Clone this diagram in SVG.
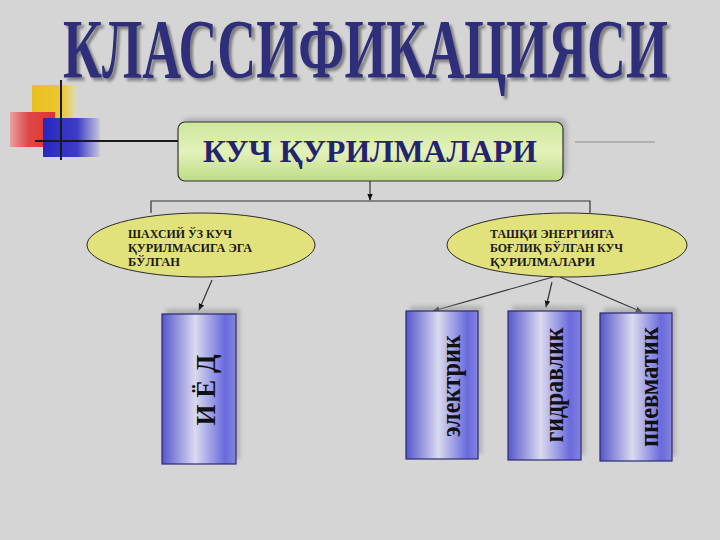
<svg xmlns="http://www.w3.org/2000/svg" width="720" height="540" viewBox="0 0 720 540">
<style>
.serif{font-family:"Liberation Serif","DejaVu Serif",serif;font-weight:bold}
.title{font-size:85px;fill:#2d2d7a}
.main{font-size:32px;fill:#23236e}
.ell{font-size:11.5px;fill:#1a1a1a}
.vert{font-size:27px;fill:#111}
.conn{stroke:#333;stroke-width:1.2;fill:none}
.ellipse{fill:#e2e27c;stroke:#2a2a2a;stroke-width:1}
.box{fill:url(#blueGrad);stroke:#2a2a70;stroke-width:1.2}
.shadow{fill:#9a9a9a;opacity:0.6;filter:url(#blur)}
</style>
<defs>
<linearGradient id="blueGrad" x1="0" y1="0" x2="1" y2="0">
<stop offset="0" stop-color="#5656cc"/>
<stop offset="0.45" stop-color="#dadaf0"/>
<stop offset="0.85" stop-color="#6a6ade"/>
<stop offset="1" stop-color="#8484da"/>
</linearGradient>
<linearGradient id="greenGrad" x1="0" y1="0" x2="0" y2="1">
<stop offset="0" stop-color="#cde79a"/>
<stop offset="0.5" stop-color="#e4f1bb"/>
<stop offset="1" stop-color="#bddc84"/>
</linearGradient>
<linearGradient id="yellowGrad" x1="0" y1="0" x2="1" y2="0">
<stop offset="0" stop-color="#e8c020"/>
<stop offset="0.7" stop-color="#ecc830"/>
<stop offset="1" stop-color="#e0d8b0"/>
</linearGradient>
<linearGradient id="redGrad" x1="0" y1="0" x2="1" y2="0">
<stop offset="0" stop-color="#e8a0a0"/>
<stop offset="0.4" stop-color="#e04848"/>
<stop offset="1" stop-color="#e03030"/>
</linearGradient>
<linearGradient id="blueSq" x1="0" y1="0" x2="1" y2="0">
<stop offset="0" stop-color="#2828c0"/>
<stop offset="0.6" stop-color="#3c3cc8"/>
<stop offset="1" stop-color="#c8c8dc"/>
</linearGradient>
<filter id="blur" x="-20%" y="-20%" width="140%" height="140%"><feGaussianBlur stdDeviation="2"/></filter>
<filter id="tshadow" x="-2%" y="-10%" width="104%" height="120%">
<feGaussianBlur in="SourceAlpha" stdDeviation="1.5" result="b"/>
<feOffset in="b" dx="4" dy="3" result="o"/>
<feFlood flood-color="#777" flood-opacity="0.9"/>
<feComposite in2="o" operator="in" result="s"/>
<feMerge><feMergeNode in="s"/><feMergeNode in="SourceGraphic"/></feMerge>
</filter>
<marker id="arrow" viewBox="0 0 10 10" refX="9" refY="5" markerWidth="7" markerHeight="7" orient="auto-start-reverse" markerUnits="userSpaceOnUse">
<path d="M0,1 L10,5 L0,9 z" fill="#111"/>
</marker>
</defs>
<rect width="720" height="540" fill="#d5d5d5"/>

<g id="decoration">
<rect x="32" y="85" width="43" height="35" fill="url(#yellowGrad)"/>
<rect x="10" y="112" width="45" height="35" fill="url(#redGrad)"/>
<rect x="43" y="118" width="57" height="39" fill="url(#blueSq)"/>
<line x1="61" y1="80" x2="61" y2="160" stroke="#1a1a1a" stroke-width="2"/>
<line x1="35" y1="141" x2="178" y2="141" stroke="#1a1a1a" stroke-width="2"/>
<line x1="575" y1="142" x2="655" y2="142" stroke="#b0b0b0" stroke-width="2"/>
</g>

<g id="title">
<text class="serif title" transform="scale(0.63,1)" x="100" y="78" textLength="960" lengthAdjust="spacingAndGlyphs" filter="url(#tshadow)">КЛАССИФИКАЦИЯСИ</text>
</g>

<g id="connectors">
<line class="conn" x1="370" y1="181" x2="370" y2="200" marker-end="url(#arrow)"/>
<polyline class="conn" points="151,213 151,201 590,201 590,213"/>
<line class="conn" x1="212" y1="280" x2="199" y2="310" marker-end="url(#arrow)"/>
<line class="conn" x1="553" y1="277" x2="433" y2="311" marker-end="url(#arrow)"/>
<line class="conn" x1="552" y1="282" x2="546" y2="307" marker-end="url(#arrow)"/>
<line class="conn" x1="560" y1="277" x2="642" y2="312" marker-end="url(#arrow)"/>
</g>

<g id="node-main">
<rect x="182" y="118" width="385" height="59" rx="7" fill="#9a9a9a" opacity="0.6" filter="url(#blur)"/>
<rect x="178" y="122" width="385" height="59" rx="7" fill="url(#greenGrad)" stroke="#333" stroke-width="1.2"/>
<text class="serif main" x="203" y="162" textLength="334" lengthAdjust="spacingAndGlyphs">КУЧ ҚУРИЛМАЛАРИ</text>
</g>

<g id="node-left-ellipse">
<ellipse class="ellipse" cx="201" cy="245" rx="114" ry="32"/>
<text class="serif ell" x="128" y="238" textLength="104" lengthAdjust="spacingAndGlyphs">ШАХСИЙ ЎЗ КУЧ</text>
<text class="serif ell" x="128" y="252" textLength="124" lengthAdjust="spacingAndGlyphs">ҚУРИЛМАСИГА ЭГА</text>
<text class="serif ell" x="128" y="266" textLength="52" lengthAdjust="spacingAndGlyphs">БЎЛГАН</text>
</g>

<g id="node-right-ellipse">
<ellipse class="ellipse" cx="567" cy="245" rx="120" ry="32"/>
<text class="serif ell" x="490" y="238" textLength="124" lengthAdjust="spacingAndGlyphs">ТАШҚИ ЭНЕРГИЯГА</text>
<text class="serif ell" x="490" y="252" textLength="133" lengthAdjust="spacingAndGlyphs">БОҒЛИҚ БЎЛГАН КУЧ</text>
<text class="serif ell" x="490" y="266" textLength="105" lengthAdjust="spacingAndGlyphs">ҚУРИЛМАЛАРИ</text>
</g>

<g id="node-ied">
<rect class="shadow" x="166" y="309" width="74" height="150"/>
<rect class="box" x="162" y="314" width="74" height="150"/>
<text class="serif vert" transform="translate(215,390) rotate(-90)" text-anchor="middle">И Ё Д</text>
</g>

<g id="node-elektrik">
<rect class="shadow" x="410" y="306" width="72" height="148"/>
<rect class="box" x="406" y="311" width="72" height="148"/>
<text class="serif vert" transform="translate(460,386) rotate(-90)" text-anchor="middle" textLength="102" lengthAdjust="spacingAndGlyphs">электрик</text>
</g>

<g id="node-gidravlik">
<rect class="shadow" x="512" y="306" width="73" height="149"/>
<rect class="box" x="508" y="311" width="73" height="149"/>
<text class="serif vert" transform="translate(563,385) rotate(-90)" text-anchor="middle" textLength="115" lengthAdjust="spacingAndGlyphs">гидравлик</text>
</g>

<g id="node-pnevmatik">
<rect class="shadow" x="604" y="308" width="72" height="148"/>
<rect class="box" x="600" y="313" width="72" height="148"/>
<text class="serif vert" transform="translate(658,387) rotate(-90)" text-anchor="middle" textLength="120" lengthAdjust="spacingAndGlyphs">пневматик</text>
</g>
</svg>
